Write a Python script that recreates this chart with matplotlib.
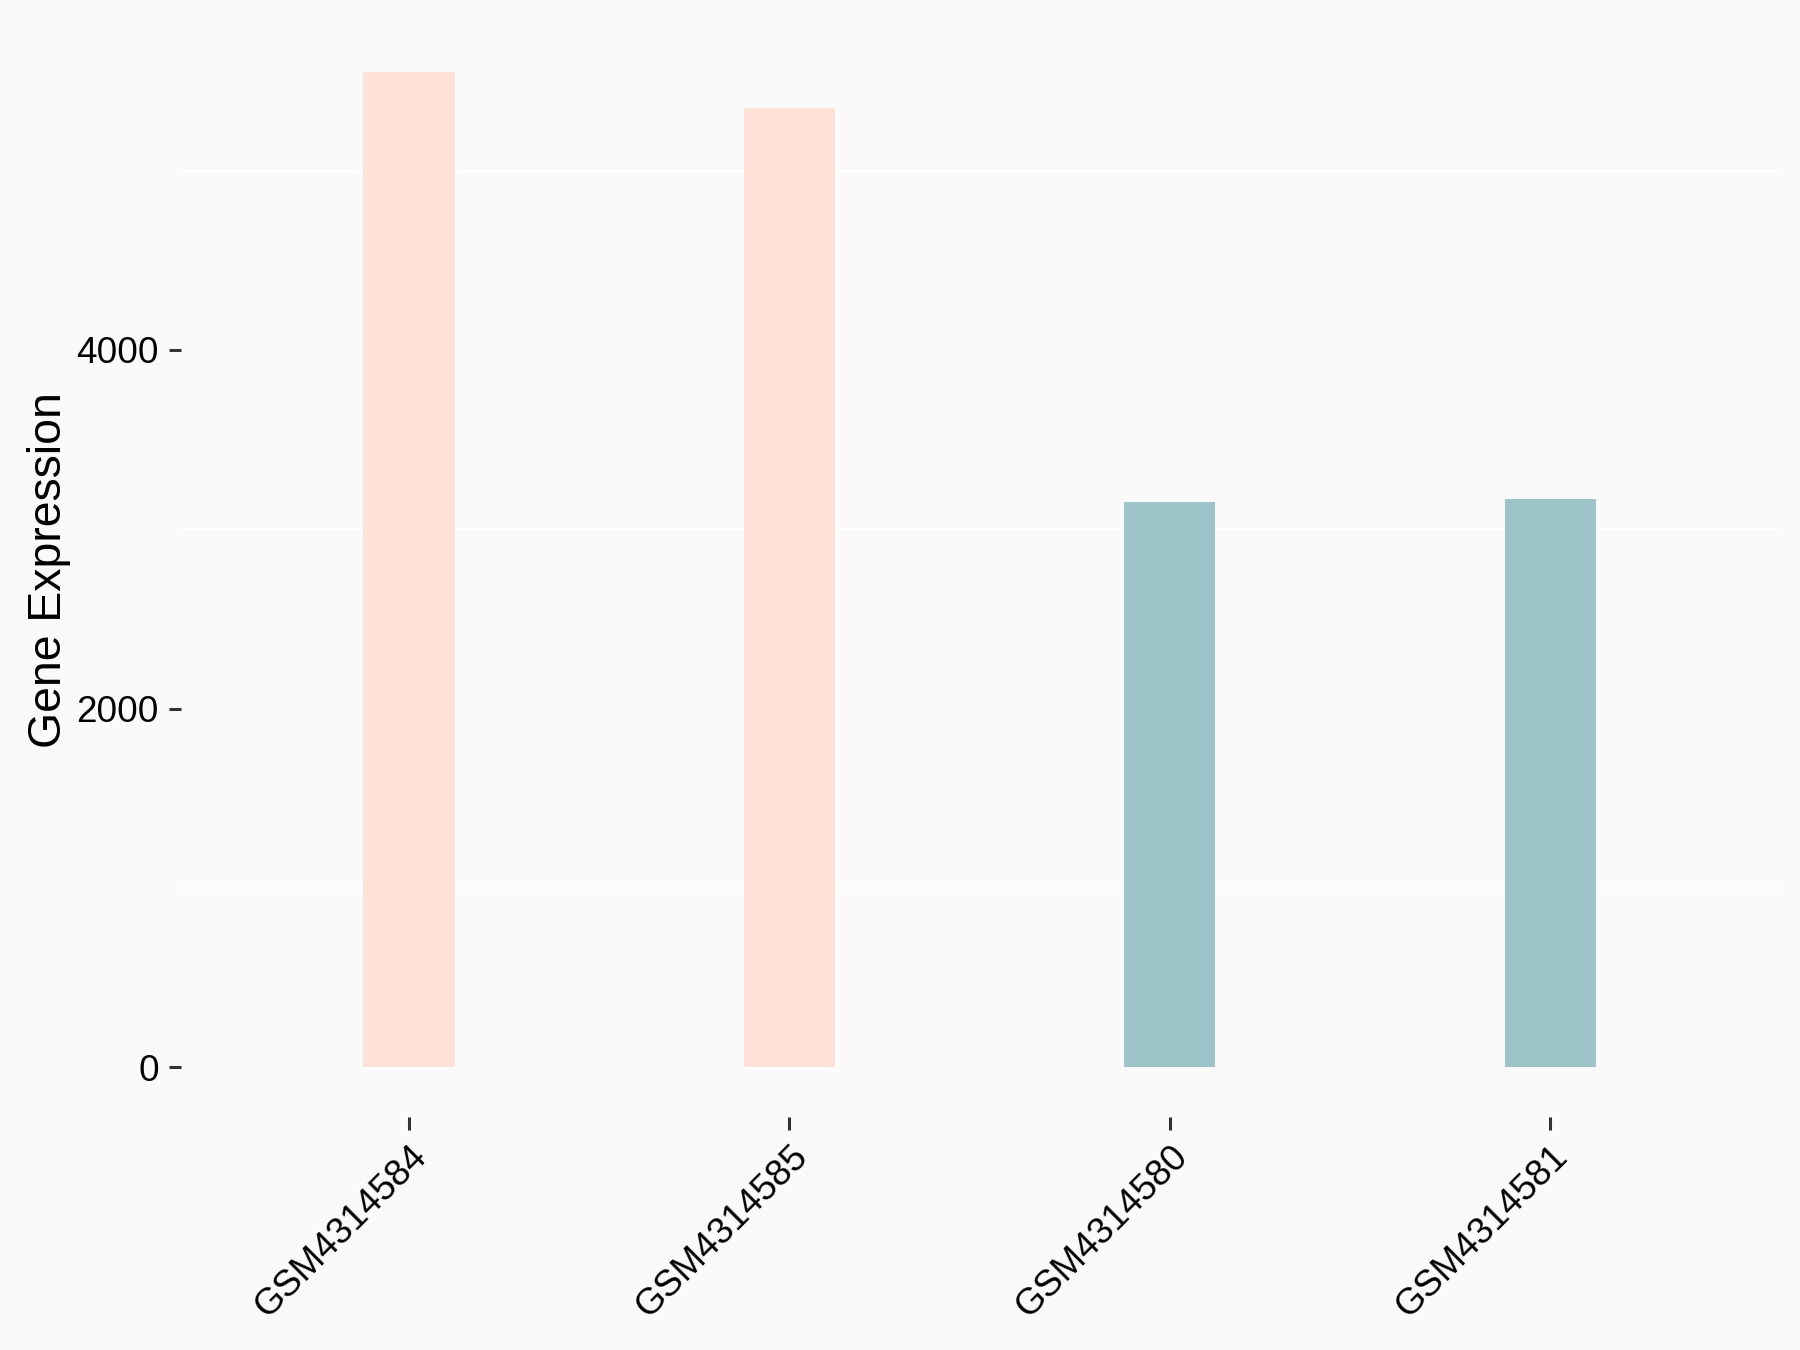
import matplotlib.pyplot as plt
from matplotlib.ticker import FixedLocator
import matplotlib.transforms as mtransforms

samples = ["GSM4314584", "GSM4314585", "GSM4314580", "GSM4314581"]
expression = [5548, 5351, 3153, 3169]
colors = ["#FEE1D7", "#9DC4C8", ]
groups = [0, 0, 1, 1]

plt.rcParams['font.family'] = ['Liberation Sans', 'DejaVu Sans']

fig = plt.figure(figsize=(9, 6.75), dpi=200, facecolor="#FAFAFA")
ax = fig.add_axes([0.1005, 0.1726, 0.8875, 0.8107])
ax.set_facecolor("#FAFAFA")

xpos = list(range(1, len(samples) + 1))
ax.bar(xpos, expression, width=0.24, color=[colors[g] for g in groups], zorder=2)

ax.set_xlim(0.4, 4.6)
top = max(expression)
ax.set_ylim(-0.05 * top, 1.05 * top)

ax.set_yticks([0, 2000, 4000])
ax.yaxis.set_minor_locator(FixedLocator([1000, 3000, 5000]))
ax.grid(False)
ax.grid(which='minor', axis='y', color='white', linewidth=0.8, zorder=1)
ax.tick_params(axis='y', which='minor', length=0)

ax.set_xticks(xpos)
ax.set_xticklabels(samples, rotation=45, ha='right', va='top', rotation_mode='anchor')
offset = mtransforms.ScaledTranslation(3 / 72, -3 / 72, fig.dpi_scale_trans)
for lab in ax.get_xticklabels():
    lab.set_transform(lab.get_transform() + offset)

ax.tick_params(axis='both', which='major', length=4.5, width=1.1, color='#333333',
               labelsize=13.3, labelcolor='black', pad=3.5)

for s in ax.spines.values():
    s.set_visible(False)

ax.set_ylabel("Gene Expression", fontsize=16.7, labelpad=2)

fig.savefig("out.png", dpi=200, facecolor="#FAFAFA")
